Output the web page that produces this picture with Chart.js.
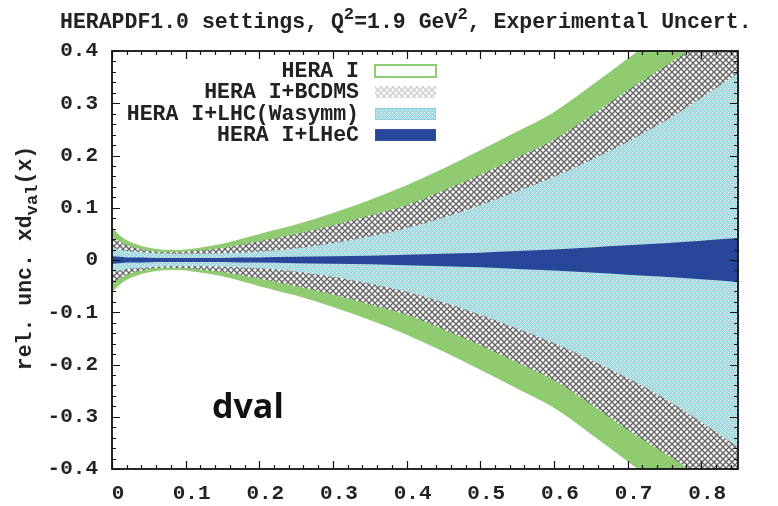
<!DOCTYPE html>
<html>
<head>
<meta charset="utf-8">
<title>dval relative uncertainty</title>
<script src="https://cdn.jsdelivr.net/npm/chart.js@4.4.1/dist/chart.umd.min.js"></script>
<style>
  html, body { margin: 0; padding: 0; background: #fff; }
  #wrap { width: 778px; height: 506px; }
</style>
</head>
<body>
<div id="wrap"><canvas id="chart" width="778" height="506"></canvas></div>
<script>
// x points where the band edges are sampled
const xValues = [0, 0.01, 0.02, 0.04, 0.06, 0.08, 0.1, 0.125, 0.15, 0.175, 0.2, 0.25,
                 0.3, 0.35, 0.4, 0.45, 0.5, 0.55, 0.6, 0.65, 0.7, 0.75, 0.8, 0.85];

// half widths of the relative uncertainty bands (symmetric around 0)
const heraI     = [0.062, 0.048, 0.038, 0.027, 0.021, 0.019, 0.020, 0.025, 0.031, 0.040, 0.050, 0.068,
                   0.090, 0.115, 0.143, 0.175, 0.210, 0.246, 0.283, 0.333, 0.385, 0.440, 0.495, 0.550];
const heraBcdms = [0.045, 0.035, 0.028, 0.020, 0.016, 0.015, 0.016, 0.019, 0.023, 0.029, 0.036, 0.050,
                   0.066, 0.085, 0.105, 0.133, 0.163, 0.196, 0.230, 0.276, 0.325, 0.370, 0.415, 0.460];
const heraLhc   = [0.024, 0.020, 0.017, 0.015, 0.013, 0.012, 0.012, 0.012, 0.013, 0.014, 0.016, 0.022,
                   0.032, 0.045, 0.061, 0.081, 0.105, 0.131, 0.159, 0.191, 0.226, 0.265, 0.310, 0.358];
const heraLhec  = [0.007, 0.006, 0.005, 0.005, 0.004, 0.004, 0.004, 0.004, 0.004, 0.005, 0.005, 0.006,
                   0.007, 0.008, 0.010, 0.012, 0.014, 0.017, 0.020, 0.024, 0.028, 0.032, 0.037, 0.042];

const seriesNames = ['HERA I', 'HERA I+BCDMS', 'HERA I+LHC(Wasymm)', 'HERA I+LHeC'];

const xTicks = [0, 0.1, 0.2, 0.3, 0.4, 0.5, 0.6, 0.7, 0.8];
const xTickLabels = ['0', '0.1', '0.2', '0.3', '0.4', '0.5', '0.6', '0.7', '0.8'];
const yTicks = [-0.4, -0.3, -0.2, -0.1, 0, 0.1, 0.2, 0.3, 0.4];
const yTickLabels = ['-0.4', '-0.3', '-0.2', '-0.1', '0', '0.1', '0.2', '0.3', '0.4'];

const MONO = '"Liberation Mono", "DejaVu Sans Mono", monospace';
const TEXT = '#222';

// fill styles
const green = '#8fcb70';
const navy = '#28479a';

function makeHatch() {
    const c = document.createElement('canvas');
    c.width = 6; c.height = 6;
    const g = c.getContext('2d');
    g.fillStyle = '#fff';
    g.fillRect(0, 0, 6, 6);
    g.strokeStyle = '#666';
    g.lineWidth = 1.4;
    g.beginPath();
    g.moveTo(0, 0); g.lineTo(6, 6);
    g.moveTo(6, 0); g.lineTo(0, 6);
    g.stroke();
    return g.createPattern(c, 'repeat');
}

function makeDots() {
    const c = document.createElement('canvas');
    c.width = 4; c.height = 4;
    const g = c.getContext('2d');
    g.fillStyle = '#a2dbe3';
    g.fillRect(0, 0, 4, 4);
    g.fillStyle = 'rgba(255,255,255,0.75)';
    g.fillRect(0, 0, 1, 1);
    g.fillRect(2, 2, 1, 1);
    return g.createPattern(c, 'repeat');
}

const hatch = makeHatch();
const dots = makeDots();

// one band = upper edge filled down to the mirrored lower edge
function band(values, fillStyle) {
    return [
        { data: xValues.map((x, i) => ({ x: x, y: values[i] })), fill: '+1', backgroundColor: fillStyle },
        { data: xValues.map((x, i) => ({ x: x, y: -values[i] })), fill: false, backgroundColor: fillStyle }
    ];
}

// first dataset is painted last, so the narrowest band goes first
const datasets = [].concat(
    band(heraLhec, navy),
    band(heraLhc, dots),
    band(heraBcdms, hatch),
    band(heraI, green)
);

// rich text with super/subscripts: parts = [[text, kind]], kind 1 = sup, -1 = sub
function richWidth(ctx, parts, size) {
    let w = 0;
    parts.forEach(([t, k]) => {
        ctx.font = `bold ${k ? size * 0.8 : size}px ${MONO}`;
        w += ctx.measureText(t).width;
    });
    return w;
}

function drawRich(ctx, parts, x, y, size) {
    let cx = x;
    parts.forEach(([t, k]) => {
        ctx.font = `bold ${k ? size * 0.8 : size}px ${MONO}`;
        const dy = k === 1 ? -size * 0.42 : (k === -1 ? size * 0.28 : 0);
        ctx.fillText(t, cx, y + dy);
        cx += ctx.measureText(t).width;
    });
}

const decorations = {
    id: 'decorations',
    afterDatasetsDraw(chart) {
        const { ctx, chartArea: a, scales: { x, y } } = chart;
        ctx.save();
        ctx.strokeStyle = '#111';
        ctx.lineWidth = 1.2;
        ctx.beginPath();
        // x ticks every 0.02 on bottom and top
        for (let i = 0; i <= 42; i++) {
            const px = Math.round(x.getPixelForValue(i * 0.02)) + 0.5;
            const len = i % 5 === 0 ? 8 : 4;
            ctx.moveTo(px, a.bottom); ctx.lineTo(px, a.bottom - len);
            ctx.moveTo(px, a.top); ctx.lineTo(px, a.top + len);
        }
        // y ticks every 0.02 on left and right
        for (let i = 0; i <= 40; i++) {
            const py = Math.round(y.getPixelForValue(-0.4 + i * 0.02)) + 0.5;
            const len = i % 5 === 0 ? 8 : 4;
            ctx.moveTo(a.left, py); ctx.lineTo(a.left + len, py);
            ctx.moveTo(a.right, py); ctx.lineTo(a.right - len, py);
        }
        ctx.stroke();
        ctx.lineWidth = 1.8;
        ctx.strokeRect(a.left, a.top, a.right - a.left, a.bottom - a.top);
        ctx.restore();
    },
    afterDraw(chart) {
        const ctx = chart.ctx;
        ctx.save();
        ctx.fillStyle = TEXT;
        ctx.textBaseline = 'alphabetic';
        ctx.textAlign = 'left';

        // title
        drawRich(ctx, [['HERAPDF1.0 settings, Q', 0], ['2', 1], ['=1.9 GeV', 0], ['2', 1],
                       [', Experimental Uncert.', 0]], 60, 28, 21.5);

        // y axis title
        const yParts = [['rel. unc. xd', 0], ['val', -1], ['(x)', 0]];
        ctx.save();
        ctx.translate(31, 258);
        ctx.rotate(-Math.PI / 2);
        drawRich(ctx, yParts, -richWidth(ctx, yParts, 21.5) / 2, 0, 21.5);
        ctx.restore();

        // legend
        const rows = [71, 92, 114, 135];
        const fills = [null, hatch, dots, navy];
        ctx.font = `bold 21.5px ${MONO}`;
        ctx.textAlign = 'right';
        ctx.textBaseline = 'middle';
        seriesNames.forEach((name, i) => {
            const cy = rows[i];
            ctx.fillStyle = TEXT;
            ctx.fillText(name, 359, cy + 1);
            const bx = 375, bw = 61, bh = 12, by = cy - bh / 2;
            if (i === 0) {
                ctx.fillStyle = '#fff';
                ctx.fillRect(bx, by, bw, bh);
                ctx.strokeStyle = green;
                ctx.lineWidth = 2;
                ctx.strokeRect(bx, by, bw, bh);
            } else if (i === 1) {
                ctx.globalAlpha = 0.3;
                ctx.fillStyle = hatch;
                ctx.fillRect(bx, by, bw, bh);
                ctx.globalAlpha = 1;
            } else {
                ctx.fillStyle = fills[i];
                ctx.fillRect(bx, by, bw, bh);
                ctx.strokeStyle = i === 2 ? '#86d3de' : '#3a4f9e';
                ctx.lineWidth = 1;
                ctx.strokeRect(bx + 0.5, by + 0.5, bw - 1, bh - 1);
            }
        });

        // panel label
        ctx.fillStyle = '#111';
        ctx.textAlign = 'left';
        ctx.textBaseline = 'alphabetic';
        ctx.font = 'bold 34px "Open Sans", "Noto Sans", sans-serif';
        ctx.fillText('dval', 212, 418);
        ctx.restore();
    }
};

const tickFont = { family: MONO, size: 21, weight: 'bold' };

new Chart(document.getElementById('chart'), {
    type: 'line',
    data: { datasets: datasets },
    options: {
        responsive: false,
        animation: false,
        devicePixelRatio: 1,
        layout: { padding: { top: 51, right: 40, left: 0, bottom: 0 } },
        elements: {
            point: { radius: 0, hoverRadius: 0 },
            line: { borderWidth: 0, borderColor: 'rgba(0,0,0,0)', cubicInterpolationMode: 'monotone' }
        },
        plugins: {
            legend: { display: false },
            tooltip: { enabled: false },
            title: { display: false }
        },
        scales: {
            x: {
                type: 'linear',
                min: 0,
                max: 0.85,
                grid: { display: false, drawTicks: false },
                border: { display: false },
                afterBuildTicks: s => { s.ticks = xTicks.map(v => ({ value: v })); },
                afterFit: s => { s.height = 37; },
                ticks: {
                    font: tickFont,
                    color: TEXT,
                    padding: 12,
                    labelOffset: 6,
                    maxRotation: 0,
                    autoSkip: false,
                    callback: (v, i) => xTickLabels[i]
                }
            },
            y: {
                min: -0.4,
                max: 0.4,
                grid: { display: false, drawTicks: false },
                border: { display: false },
                afterBuildTicks: s => { s.ticks = yTicks.map(v => ({ value: v })); },
                afterFit: s => { s.width = 112; },
                ticks: {
                    font: tickFont,
                    color: TEXT,
                    padding: 14,
                    autoSkip: false,
                    callback: (v, i) => yTickLabels[i]
                }
            }
        }
    },
    plugins: [decorations]
});
</script>
</body>
</html>
